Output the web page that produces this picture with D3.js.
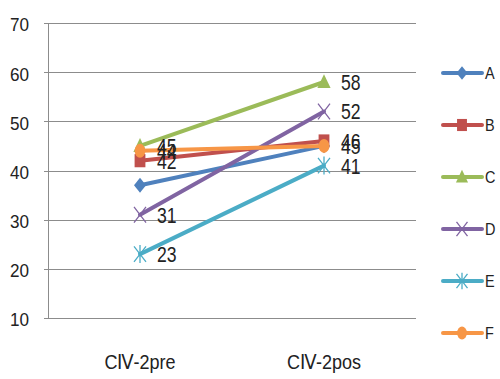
<!DOCTYPE html>
<html>
<head>
<meta charset="utf-8">
<script src="https://cdn.jsdelivr.net/npm/d3@7"></script>
<style>
  html, body { margin: 0; padding: 0; background: #fff; }
  svg { display: block; }
</style>
</head>
<body>
<svg id="chart" width="500" height="379"></svg>
<script>
// Categories and series values
const categories = ["CⅣ-2pre", "CⅣ-2pos"];
const seriesNames = ["A", "B", "C", "D", "E", "F"];
const valuesA = [37, 45];
const valuesB = [42, 46];
const valuesC = [45, 58];
const valuesD = [31, 52];
const valuesE = [23, 41];
const valuesF = [44, 45];
const showLabels = [false, true, true, true, true, true];
const yTicks = [10, 20, 30, 40, 50, 60, 70];

const colors = ["#4F81BD", "#C0504D", "#9BBB59", "#8064A2", "#4BACC6", "#F79646"];
const markers = ["diamond", "square", "triangle", "x", "star", "circle"];

const series = seriesNames.map((name, i) => ({
  name,
  values: [valuesA, valuesB, valuesC, valuesD, valuesE, valuesF][i],
  color: colors[i],
  marker: markers[i],
  label: showLabels[i]
}));

const svg = d3.select("#chart");
const plot = { left: 48, right: 416, top: 23, bottom: 318 };
const FONT = "Liberation Sans, Arial, sans-serif";

const x = d3.scaleBand().domain(categories).range([plot.left, plot.right]);
const y = d3.scaleLinear().domain([10, 70]).range([plot.bottom, plot.top]);
const cx = c => x(c) + x.bandwidth() / 2;

// Condense a text element horizontally
function narrow(sel, k) {
  sel.each(function () {
    const len = this.getComputedTextLength();
    d3.select(this).attr("textLength", len * k).attr("lengthAdjust", "spacingAndGlyphs");
  });
}

// Horizontal gridlines
svg.append("g")
  .selectAll("line")
  .data(yTicks)
  .join("line")
  .attr("x1", plot.left - 4)
  .attr("x2", plot.right)
  .attr("y1", d => Math.round(y(d)) + 0.5)
  .attr("y2", d => Math.round(y(d)) + 0.5)
  .attr("stroke", "#8c8c8c")
  .attr("stroke-width", 1);

// Vertical axis line
svg.append("line")
  .attr("x1", plot.left + 0.5).attr("x2", plot.left + 0.5)
  .attr("y1", plot.top).attr("y2", plot.bottom)
  .attr("stroke", "#8c8c8c");

// Y tick labels
const yAxis = d3.axisLeft(y).tickValues(yTicks).tickSize(0).tickPadding(19);
svg.append("g")
  .attr("transform", `translate(${plot.left},0)`)
  .call(yAxis)
  .call(g => g.select(".domain").remove())
  .call(g => g.selectAll("text")
    .attr("font-family", FONT)
    .attr("font-size", 19)
    .attr("fill", "#222")
    .attr("dy", "0.42em")
    .call(narrow, 0.9));

// X tick labels
const xAxis = d3.axisBottom(x).tickSize(0).tickPadding(37);
svg.append("g")
  .attr("transform", `translate(0,${plot.bottom})`)
  .call(xAxis)
  .call(g => g.select(".domain").remove())
  .call(g => g.selectAll("text")
    .attr("font-family", FONT)
    .attr("font-size", 20)
    .attr("fill", "#222")
    .call(narrow, 0.9));

// Marker shapes
function drawMarker(g, type, color, size) {
  const s = size;
  if (type === "diamond") {
    g.append("path").attr("d", `M0,${-s * 0.62}L${s * 0.5},0L0,${s * 0.62}L${-s * 0.5},0Z`)
      .attr("fill", color);
  } else if (type === "square") {
    g.append("rect").attr("x", -s * 0.45).attr("y", -s * 0.55).attr("width", s * 0.9).attr("height", s * 1.1)
      .attr("fill", color);
  } else if (type === "triangle") {
    g.append("path").attr("d", `M0,${-s * 0.65}L${s * 0.55},${s * 0.5}L${-s * 0.55},${s * 0.5}Z`)
      .attr("fill", color);
  } else if (type === "x") {
    const w = s * 0.5, h = s * 0.65;
    g.append("path").attr("d", `M${-w},${-h}L${w},${h}M${-w},${h}L${w},${-h}`)
      .attr("stroke", color).attr("stroke-width", 1.3).attr("fill", "none");
  } else if (type === "star") {
    const w = s * 0.5, h = s * 0.65;
    g.append("path").attr("d", `M${-w},${-h}L${w},${h}M${-w},${h}L${w},${-h}M0,${-h * 1.15}L0,${h * 1.15}`)
      .attr("stroke", color).attr("stroke-width", 1.3).attr("fill", "none");
  } else if (type === "circle") {
    g.append("ellipse").attr("rx", s * 0.45).attr("ry", s * 0.58).attr("fill", color);
  }
}

const line = d3.line()
  .x((d, i) => cx(categories[i]))
  .y(d => y(d));

// Series lines and markers
series.forEach(s => {
  const g = svg.append("g");
  g.append("path")
    .datum(s.values)
    .attr("d", line)
    .attr("fill", "none")
    .attr("stroke", s.color)
    .attr("stroke-width", 4)
    .attr("stroke-linecap", "round");
  s.values.forEach((v, i) => {
    const m = g.append("g").attr("transform", `translate(${cx(categories[i])},${y(v)})`);
    drawMarker(m, s.marker, s.color, 12);
  });
});

// Data labels
series.forEach(s => {
  if (!s.label) return;
  s.values.forEach((v, i) => {
    svg.append("text")
      .attr("x", cx(categories[i]) + 17)
      .attr("y", y(v))
      .attr("dy", "0.36em")
      .attr("font-family", FONT)
      .attr("font-size", 22)
      .attr("fill", "#222")
      .text(v)
      .call(narrow, 0.8);
  });
});

// Legend
const legendY = d3.scalePoint().domain(seriesNames).range([73, 333]);
const legend = svg.append("g");
series.forEach(s => {
  const ly = legendY(s.name);
  const lg = legend.append("g");
  lg.append("line")
    .attr("x1", 443).attr("x2", 482)
    .attr("y1", ly).attr("y2", ly)
    .attr("stroke", s.color).attr("stroke-width", 4)
    .attr("stroke-linecap", "round");
  const m = lg.append("g").attr("transform", `translate(462,${ly})`);
  drawMarker(m, s.marker, s.color, 11);
  lg.append("text")
    .attr("x", 485).attr("y", ly)
    .attr("dy", "0.36em")
    .attr("font-family", FONT)
    .attr("font-size", 17)
    .attr("fill", "#222")
    .text(s.name)
    .call(narrow, 0.85);
});
</script>
</body>
</html>
